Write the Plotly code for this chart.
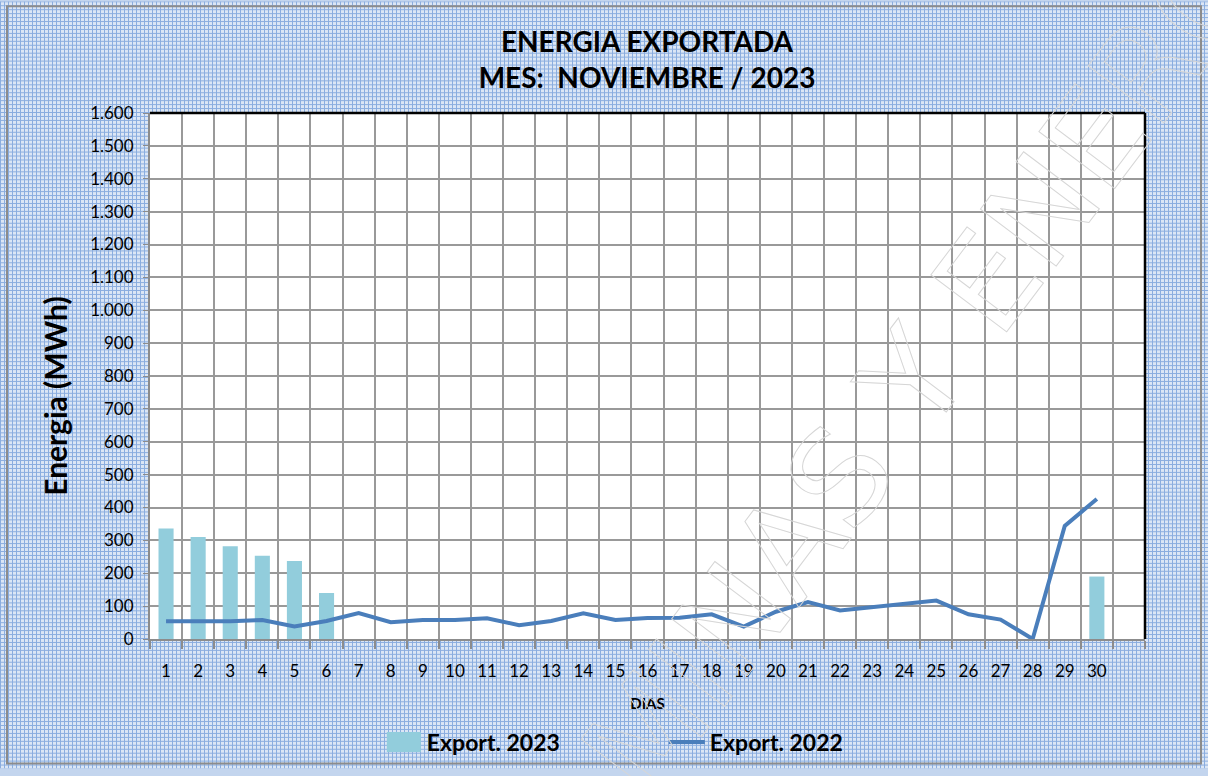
import plotly.graph_objects as go

# Datos (MWh por dia)
dias = list(range(1, 31))
export_2023 = [336, 310, 282, 253, 237, 140] + [None] * 23 + [190]
export_2022 = [54, 54, 54, 58, 38, 55, 79, 51, 58, 58, 63, 42, 55, 78, 58,
               64, 65, 75, 38, 83, 112, 87, 98, 106, 117, 75, 59, 0, 344, 426]

W, H = 1208, 776
L, R, T, B = 150, 63, 113, 131
PW, PH = W - L - R, H - T - B


def px2paper(x, y):
    return (x - L) / PW, (H - B - y) / PH


# patron de fondo tipo cuadricula azul
pattern_svg = (
    "<svg xmlns='http://www.w3.org/2000/svg' width='1208' height='776'>"
    "<defs><pattern id='p' width='4' height='4' patternUnits='userSpaceOnUse'>"
    "<rect width='4' height='4' fill='%23dbe6f5'/>"
    "<rect width='4' height='1' fill='%238aaddf'/>"
    "<rect width='1' height='4' fill='%238aaddf'/>"
    "</pattern></defs>"
    "<rect width='1208' height='776' fill='url(%23p)'/></svg>"
)
bg_src = "data:image/svg+xml;utf8," + pattern_svg

fig = go.Figure()

fig.add_trace(go.Bar(
    x=dias, y=export_2023, name="Export. 2023",
    marker=dict(color="#92cddc", line=dict(width=0)),
    width=0.47,
))
fig.add_trace(go.Scatter(
    x=dias, y=export_2022, name="Export. 2022",
    mode="lines", line=dict(color="#4a7ebb", width=4),
))

x0, y0 = px2paper(0, 0)
x1, y1 = px2paper(W, H)
fx0, fy0 = px2paper(7, 5)
fx1, fy1 = px2paper(1201, 771)
wx, wy = px2paper(962, 318)
tx, ty = px2paper(55, 400)

fig.update_layout(
    width=W, height=H,
    margin=dict(l=L, r=R, t=T, b=B),
    paper_bgcolor="#c3d5ee",
    plot_bgcolor="white",
    font=dict(family="Lato, Open Sans, sans-serif", color="black"),
    separators=",.",
    showlegend=True,
    title=dict(
        text="<b>ENERGIA EXPORTADA<br>MES:  NOVIEMBRE / 2023</b>",
        x=647 / W, xanchor="center", y=0.933, yanchor="top",
        font=dict(size=28, color="black"),
    ),
    xaxis=dict(
        range=[0.5, 31.5], automargin=False,
        tickmode="array", tickvals=dias, ticktext=[str(d) for d in dias],
        ticks="", showgrid=False, zeroline=False,
        showline=True, linecolor="#8c8c8c", linewidth=2,
        tickfont=dict(size=17),
        ticklabelstandoff=16,
        minor=dict(tick0=0.5, dtick=1, showgrid=True, gridcolor="#999999",
                   gridwidth=1.5, ticks="outside", ticklen=8,
                   tickcolor="#8c8c8c", tickwidth=1.5),
        title=dict(text="<b>DIAS</b>", font=dict(size=15), standoff=18),
    ),
    yaxis=dict(
        range=[0, 1600], dtick=100, tickformat=",d", automargin=False,
        showgrid=True, gridcolor="#999999", gridwidth=1.5,
        zeroline=False,
        showline=True, linecolor="#8c8c8c", linewidth=2,
        ticks="outside", ticklen=5, tickcolor="#8c8c8c",
        tickfont=dict(size=17), ticklabelstandoff=6,
    ),
    legend=dict(
        orientation="h", x=0.232, xanchor="left", y=-0.155, yanchor="top",
        font=dict(size=23, color="black", weight="bold"),
        entrywidth=232, entrywidthmode="pixels",
        bgcolor="rgba(0,0,0,0)", itemwidth=36,
    ),
    images=[dict(
        source=bg_src, xref="paper", yref="paper",
        x=x0, y=y0, sizex=x1 - x0, sizey=y0 - y1,
        xanchor="left", yanchor="top", sizing="stretch", layer="below",
    )],
    shapes=[
        # fondo blanco del area de trazado (encima del patron)
        dict(type="rect", xref="paper", yref="paper", x0=0, y0=0, x1=1, y1=1,
             fillcolor="white", line=dict(width=0), layer="below"),
        # marco exterior
        dict(type="rect", xref="paper", yref="paper",
             x0=fx0, y0=fy0, x1=fx1, y1=fy1,
             line=dict(color="#8c8c8c", width=2), layer="below"),
        # borde superior y derecho del area de trazado
        dict(type="line", xref="paper", yref="paper", x0=0, y0=1, x1=1, y1=1,
             line=dict(color="black", width=2.5)),
        dict(type="line", xref="paper", yref="paper", x0=1, y0=0, x1=1, y1=1,
             line=dict(color="black", width=2.5)),
    ],
    annotations=[
        # marca de agua
        dict(text="MINAS Y ENERGIA", xref="paper", yref="paper",
             x=wx, y=wy, xanchor="center", yanchor="middle",
             showarrow=False, textangle=-53,
             font=dict(size=130, family="DejaVu Sans",
                       color="rgba(210,210,210,0.3)")),
        # titulo del eje Y
        dict(text="<b>Energia (MWh)</b>", xref="paper", yref="paper",
             x=tx, y=ty, xanchor="center", yanchor="middle",
             showarrow=False, textangle=-90,
             font=dict(size=30, color="black")),
    ],
)

post = """
document.body.style.margin = '0';
var wm = document.querySelectorAll('.annotation-text')[0];
if (wm) { wm.style.fill = 'none'; wm.style.stroke = '#d6d6d6'; wm.style.strokeWidth = '1px'; }
var sw = document.querySelectorAll('.legend .traces')[0];
if (sw) { var p = sw.querySelector('.legendpoints path');
  if (p) { p.setAttribute('d', 'M-17,10H17V-10H-17Z'); } }
"""

fig.write_html("out.html", post_script=post, config={"displayModeBar": False})
